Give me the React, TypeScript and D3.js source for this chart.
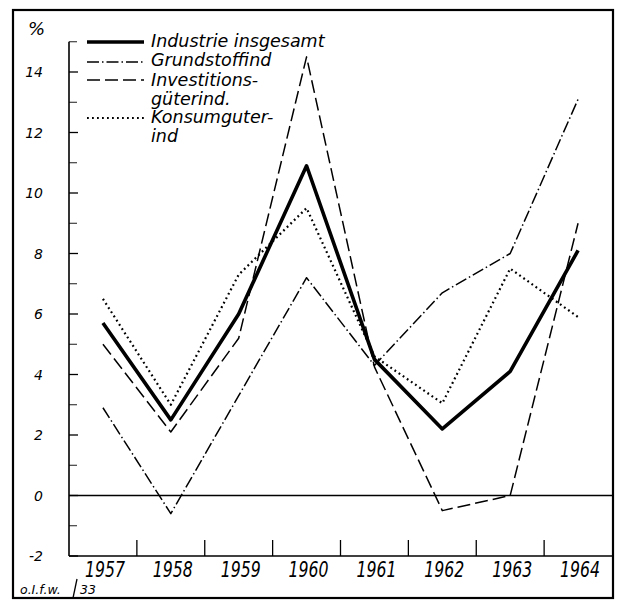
import * as d3 from "d3";

const YEARS = ["1957", "1958", "1959", "1960", "1961", "1962", "1963", "1964"];

const INDUSTRIE = [5.7, 2.5, 6.0, 10.9, 4.5, 2.2, 4.1, 8.1];
const GRUNDSTOFF = [2.9, -0.6, 3.3, 7.2, 4.3, 6.7, 8.0, 13.1];
const INVESTITION = [5.0, 2.1, 5.2, 14.5, 4.25, -0.5, 0.0, 9.0];
const KONSUM = [6.5, 3.0, 7.3, 9.5, 4.6, 3.05, 7.5, 5.9];

const Y_TICKS = [-2, 0, 2, 4, 6, 8, 10, 12, 14];
const Y_MINOR = [-1, 1, 3, 5, 7, 9, 11, 13, 15];

const W = 617;
const H = 601;
const FONT = "'DejaVu Sans', sans-serif";
const NARROW = "'Liberation Sans Narrow', 'DejaVu Sans Condensed', 'DejaVu Sans', sans-serif";

const x = d3.scaleBand<string>().domain(YEARS).range([69, 612]).padding(0);
const y = d3.scaleLinear().domain([-2, 14]).range([556, 72]);

const cx = (yr: string) => (x(yr) ?? 0) + x.bandwidth() / 2;

const line = d3
  .line<number>()
  .x((_, i) => cx(YEARS[i]))
  .y((d) => y(d));

const SERIES = [
  { name: "Industrie insgesamt", values: INDUSTRIE, width: 3.6, dash: undefined as string | undefined },
  { name: "Grundstoffind", values: GRUNDSTOFF, width: 1.5, dash: "12 3 1.5 3" },
  { name: "Investitionsgüterind.", values: INVESTITION, width: 1.5, dash: "13 5" },
  { name: "Konsumguterind", values: KONSUM, width: 2.2, dash: "1.8 3.2" },
];

const LEGEND = [
  { series: 0, lineY: 42, lines: ["Industrie insgesamt"] },
  { series: 1, lineY: 62, lines: ["Grundstoffind"] },
  { series: 2, lineY: 80, lines: ["Investitions-", "güterind."] },
  { series: 3, lineY: 118, lines: ["Konsumguter-", "ind"] },
];
const LEGEND_BASE = [47, 66, 86, 123];

export default function App() {
  const left = x.range()[0];
  const right = x.range()[1];
  const bottom = y(-2);

  return (
    <svg width={W} height={H} style={{ position: "absolute", left: 0, top: 0, background: "#fff" }}>
      {/* outer frame */}
      <rect x={13} y={10} width={600} height={588} fill="none" stroke="#000" strokeWidth={2.2} />

      {/* y axis */}
      <line x1={left} x2={left} y1={y(15)} y2={bottom} stroke="#000" strokeWidth={1.6} />
      {Y_TICKS.map((t) => (
        <g key={t}>
          <line x1={left} x2={left + 9} y1={y(t)} y2={y(t)} stroke="#000" strokeWidth={1.3} />
          <text
            x={43}
            y={y(t) + 5}
            textAnchor="end"
            fontSize={14}
            fontStyle="italic"
            fontFamily={FONT}
          >
            {t}
          </text>
        </g>
      ))}
      {Y_MINOR.map((t) => (
        <line key={t} x1={left} x2={left + 8} y1={y(t)} y2={y(t)} stroke="#000" strokeWidth={0.9} />
      ))}
      <text x={28} y={35} fontSize={18} fontStyle="italic" fontFamily={FONT}>
        %
      </text>

      {/* zero line */}
      <line x1={left} x2={right} y1={y(0)} y2={y(0)} stroke="#000" strokeWidth={1.3} />

      {/* x axis */}
      <line x1={left} x2={right} y1={bottom} y2={bottom} stroke="#000" strokeWidth={1.6} />
      {YEARS.slice(1).map((yr) => (
        <line key={yr} x1={x(yr)} x2={x(yr)} y1={bottom} y2={bottom - 16} stroke="#000" strokeWidth={1.3} />
      ))}
      {YEARS.map((yr) => (
        <text
          key={yr}
          x={cx(yr) + 2}
          y={577}
          textAnchor="middle"
          fontSize={21}
          fontStyle="italic"
          fontFamily={NARROW}
          textLength={40}
          lengthAdjust="spacingAndGlyphs"
        >
          {yr}
        </text>
      ))}

      {/* series */}
      {SERIES.map((s) => (
        <path
          key={s.name}
          d={line(s.values) ?? ""}
          fill="none"
          stroke="#000"
          strokeWidth={s.width}
          strokeDasharray={s.dash}
          strokeLinejoin="round"
        />
      ))}

      {/* legend */}
      {LEGEND.map((l, i) => {
        const s = SERIES[l.series];
        return (
          <g key={i}>
            <line x1={87} x2={144} y1={l.lineY} y2={l.lineY} stroke="#000" strokeWidth={s.width} strokeDasharray={s.dash} />
            {l.lines.map((t, j) => (
              <text key={t} x={151} y={LEGEND_BASE[i] + j * 19} fontSize={17.5} fontStyle="italic" fontFamily={FONT}>
                {t}
              </text>
            ))}
          </g>
        );
      })}

      {/* source note */}
      <text x={20} y={594} fontSize={12.5} fontStyle="italic" fontFamily={FONT}>
        o.I.f.w.
      </text>
      <line x1={77} x2={73} y1={579} y2={598} stroke="#000" strokeWidth={1.3} />
      <text x={80} y={594} fontSize={12.5} fontStyle="italic" fontFamily={FONT}>
        33
      </text>
    </svg>
  );
}
